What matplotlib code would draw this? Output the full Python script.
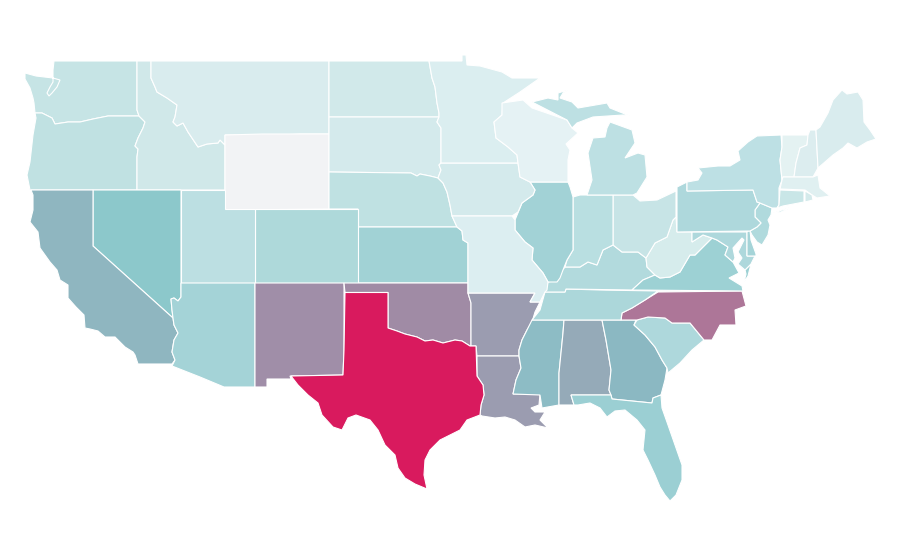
import matplotlib
matplotlib.use("Agg")
import matplotlib.pyplot as plt
from matplotlib.patches import Polygon

# state outlines, x/y on a 900x560 map grid
WA = [(54,61),(137,61),(137,110),(139,116),(108,116),(93,119),(80,122),(68,122),(55,124),(52,118),(42,113),(35,113),(34,103),(33,98),(30,88),(25,79),(25,73),(36,76),(53,78),(60,80),(57,87),(52,93),(49,96),(47,93),(50,87),(53,82),(53,70)]
OR = [(35,113),(42,113),(52,118),(55,124),(68,122),(80,122),(93,119),(108,116),(139,116),(145,122),(143,128),(138,138),(135,146),(138,149),(137,157),(137,190),(30,190),(28,180),(27,175),(30,162),(33,135),(36,118)]
ID = [(137,61),(151,61),(151,78),(155,87),(157,92),(167,98),(177,105),(175,117),(173,122),(177,126),(183,123),(188,132),(192,138),(198,147),(207,144),(218,143),(220,140),(225,145),(225,190),(137,190),(137,157),(138,149),(135,146),(138,138),(143,128),(145,122),(139,116),(137,110)]
MT = [(151,61),(329,61),(329,134),(300,134),(280,135),(225,135),(225,145),(220,140),(218,143),(207,144),(198,147),(192,138),(188,132),(183,123),(177,126),(173,122),(175,117),(177,105),(167,98),(157,92),(155,87),(151,78)]
WY = [(225,135),(262,134),(329,134),(329,209),(225,210)]
ND = [(329,61),(429,61),(432,78),(435,87),(437,103),(439,113),(439,117),(329,117)]
SD = [(329,117),(439,117),(437,122),(441,128),(441,163),(439,165),(441,170),(438,178),(430,176),(420,174),(417,176),(411,173),(329,172)]
NE = [(329,172),(411,173),(417,176),(420,174),(430,176),(438,178),(443,183),(447,192),(450,205),(452,216),(457,227),(358,227),(358,209),(329,209)]
KS = [(358,227),(457,227),(462,231),(463,240),(468,243),(468,283),(358,283)]
CO = [(255,209),(358,209),(358,283),(255,283)]
UT = [(181,190),(225,190),(225,209),(255,209),(255,283),(181,283)]
NV = [(93,190),(181,190),(181,297),(178,301),(174,298),(171,299),(172,310),(173,318),(93,246)]
CA = [(31,190),(93,190),(93,246),(173,318),(174,325),(178,333),(174,340),(172,352),(175,360),(172,364),(138,364),(135,355),(133,352),(125,347),(118,340),(115,337),(105,337),(98,331),(90,329),(85,328),(84,315),(76,307),(68,298),(68,285),(60,280),(57,270),(50,262),(40,248),(38,232),(30,222),(33,210),(33,195)]
AZ = [(181,283),(255,283),(255,387),(224,387),(200,377),(172,366),(175,360),(172,352),(174,340),(178,333),(174,325),(173,318),(172,310),(171,299),(174,298),(178,301),(181,297)]
NM = [(255,283),(344,283),(344,350),(343,375),(290,376),(291,379),(267,379),(267,387),(255,387)]
TX = [(345,292.5),(388,292.5),(388,328),(397,331),(405,334),(417,337),(425,341),(433,340),(443,343),(455,340),(462,341),(470,346),(476,346),(477,376),(483,385),(484,395),(481,405),(480,415),(467,420),(460,430),(450,435),(440,440),(430,450),(425,460),(424,475),(427,489),(415,484),(405,478),(398,468),(395,455),(385,445),(378,430),(370,420),(356,415),(348,418),(342,430),(333,427),(322,415),(318,403),(308,395),(298,385),(291,376),(343,375),(344,350)]
OK = [(344,283),(468,283),(468,293),(471,303),(471,346),(470,346),(462,341),(455,340),(443,343),(433,340),(425,341),(417,337),(405,334),(397,331),(388,328),(388,292.5),(345,292.5)]
AR = [(468,293),(535,293),(530,302),(540,302),(535,312),(532,322),(527,330),(522,340),(519,350),(519,356),(477,356),(476,346),(471,346),(471,303)]
LA = [(477,356),(519,356),(521,368),(516,380),(513,394),(540,394),(539,405),(531,408),(535,412),(545,412),(540,420),(548,428),(535,425),(525,427),(515,420),(505,417),(495,418),(482,416),(480,415),(481,405),(484,395),(483,385),(477,376)]
MS = [(532,320),(564,320),(563,333),(559,373),(559,405),(542,408),(540,395),(513,394),(516,380),(521,368),(519,356),(519,350),(522,340),(527,330)]
AL = [(564,320),(602,320),(606,340),(611,370),(609,390),(611,395),(571,395),(574,405),(568,405),(559,405),(559,373),(563,333)]
GA = [(602,320),(636,320),(634,325),(645,335),(655,347),(662,360),(667,368),(665,380),(661,395),(653,398),(652,403),(612,399),(611,395),(609,390),(611,370),(606,340)]
FL = [(571,395),(611,395),(612,399),(652,403),(653,398),(661,395),(662,408),(668,425),(675,445),(682,465),(682,480),(676,495),(670,501),(665,495),(660,487),(655,475),(648,460),(643,450),(645,430),(637,420),(625,410),(615,411),(607,417),(600,408),(590,403),(578,405),(574,405)]
SC = [(634,325),(637,320),(648,317),(665,318),(672,323),(690,323),(704,340),(692,350),(680,363),(668,373),(667,368),(662,360),(655,347),(645,335)]
NC = [(621,320),(622,313),(632,308),(645,300),(658,292),(742,291),(746,306),(735,310),(736,325),(720,325),(712,340),(704,340),(690,323),(672,323),(665,318),(648,317),(637,320)]
TN = [(532,320),(540,310),(545,292),(565,292),(566,289),(600,290),(658,291),(645,300),(632,308),(622,313),(621,320)]
KY = [(548,282),(558,280),(560,273),(565,267),(580,267),(588,262),(597,265),(603,250),(613,245),(622,252),(638,252),(646,258),(647,267),(655,275),(643,280),(632,290),(566,289),(565,292),(545,292)]
VA = [(632,290),(643,280),(655,275),(660,278),(670,277),(680,272),(690,255),(695,255),(712,238),(717,240),(728,247),(725,255),(733,262),(739,273),(729,278),(742,286),(743,291)]
VA_SHORE = [(751,264),(745,270),(746,274),(744,282),(748,276)]
WV = [(646,258),(655,243),(667,237),(673,220),(676,217),(677,232),(692,232),(692,242),(703,235),(712,238),(695,255),(690,255),(680,272),(670,277),(660,278),(655,275),(647,267)]
MD = [(692,232),(747,232),(747,256),(755,256),(751,264),(745,270),(738,264),(742,258),(738,252),(744,240),(742,238),(733,248),(735,258),(733,262),(725,255),(728,247),(717,240),(712,238),(703,235),(692,242)]
DE = [(747,232),(750,230),(751,240),(756,254),(756,256),(747,256)]
NJ = [(760,203),(772,208),(771,215),(768,220),(770,225),(768,235),(762,245),(757,242),(752,235),(750,231),(757,227),(761,223),(755,217),(755,210)]
PA = [(677,187),(687,182),(687,191),(753,190),(757,202),(760,203),(755,210),(755,217),(761,223),(757,227),(750,231),(677,232)]
NY = [(687,182),(698,180),(702,173),(698,168),(718,166),(730,166),(740,160),(738,151),(748,142),(757,136),(781,135),(782,147),(780,160),(782,180),(779,188),(779,205),(777,208),(772,208),(760,203),(757,202),(753,190),(687,191)]
LONG_ISLAND = [(773,213),(785,209),(792,207),(781,212)]
VT = [(782,135),(808,135),(807,145),(800,148),(796,163),(794,177),(783,177),(782,180),(780,160),(782,147)]
NH = [(808,135),(810,130),(816,130),(818,168),(813,177),(794,177),(796,163),(800,148),(807,145)]
ME = [(816,130),(820,127),(828,113),(833,100),(842,90),(847,94),(858,92),(863,100),(864,122),(870,130),(876,139),(867,142),(857,148),(848,143),(843,148),(833,155),(825,162),(818,168)]
MA = [(783,177),(813,177),(818,175),(820,188),(830,196),(817,198),(812,195),(805,190),(780,189),(782,180)]
CT = [(780,190),(804,191),(804,202),(783,206),(777,208),(779,205)]
RI = [(805,191),(812,195),(813,200),(805,202)]
OH = [(613,195),(633,195),(640,201),(657,200),(676,191),(676,217),(673,220),(667,237),(655,243),(646,258),(638,252),(622,252),(613,245)]
IN = [(573,197),(580,195),(613,195),(613,245),(603,250),(597,265),(588,262),(580,267),(565,267),(567,260),(573,250)]
IL = [(530,182),(568,182),(570,187),(573,197),(573,250),(567,260),(563,270),(560,278),(557,282),(548,282),(543,273),(532,260),(533,248),(525,242),(515,230),(515,220),(522,203),(533,195),(535,190)]
IA = [(441,163),(518,163),(520,177),(530,182),(535,190),(533,195),(522,203),(518,212),(512,216),(452,216),(450,205),(447,192),(443,183),(438,178),(441,170),(439,165)]
MO = [(452,216),(512,216),(515,220),(515,230),(525,242),(533,248),(532,260),(543,273),(548,282),(547,290),(545,292),(540,302),(530,302),(535,293),(468,293),(468,243),(463,240),(462,231),(457,227)]
MN = [(429,61),(462,61),(462,55),(466,55),(467,65),(480,66),(502,72),(512,78),(540,78),(520,92),(503,103),(502,115),(494,122),(496,138),(508,147),(517,155),(518,163),(441,163),(441,128),(437,122),(439,117),(439,113),(437,103),(435,87),(432,78)]
WI = [(502,103),(523,100),(532,108),(567,120),(572,128),(578,133),(566,144),(570,150),(568,160),(568,182),(530,182),(520,177),(518,163),(517,155),(508,147),(496,138),(494,122),(502,115)]
MI_UPPER = [(532,102),(548,98),(558,100),(558,93),(568,90),(563,93),(560,98),(572,102),(578,108),(607,103),(610,108),(630,116),(623,115),(593,117),(577,123),(572,128),(567,120)]
MI_LOWER = [(610,122),(632,130),(635,143),(625,158),(638,153),(645,155),(647,177),(637,193),(633,195),(613,195),(587,195),(592,180),(588,153),(593,138),(605,137),(607,128)]

outlines = [WA, OR, ID, MT, WY, ND, SD, NE, KS, CO, UT, NV, CA, AZ, NM, OK, AR, LA, MS, AL, GA, FL, SC, NC, TN, KY, VA, VA_SHORE, WV, MD, DE, NJ, PA, NY, LONG_ISLAND, VT, NH, ME, MA, CT, RI, OH, IN, IL, IA, MO, MN, WI, MI_UPPER, MI_LOWER, TX]
colors = ["#c6e4e5", "#c0e1e2", "#d0e8e9", "#d9ecee", "#f2f3f5", "#d1e9ea", "#d4eaec", "#bfe1e2", "#a1d2d5", "#aed9da",
          "#bcdfe2", "#8cc8cb", "#8fb6c0", "#a4d3d7", "#a08ea8", "#a08ba5", "#9b9cb0", "#9b9cb0", "#8dbcc5", "#95aab8",
          "#8bb8c2", "#9bcfd3", "#aed8dc", "#ad7698", "#acd7da", "#b2dadd", "#9dd1d4", "#9dd1d4", "#d6ecec", "#aed8dc",
          "#a5d4d8", "#b0dadd", "#aed8dc", "#bde0e4", "#bde0e4", "#e4f2f2", "#dcedef", "#d9ecee", "#e0f0f1", "#c9e6e7",
          "#d4eaeb", "#c7e4e6", "#b9dfe1", "#a2d2d6", "#d4eaec", "#dceef1", "#dbeef0", "#e5f2f4", "#bde0e3", "#bde0e3",
          "#d91a5e"]

fig = plt.figure(figsize=(9, 5.6), dpi=100)
ax = fig.add_axes([0, 0, 1, 1])

for shape, color in zip(outlines, colors):
    ax.add_patch(Polygon(shape, closed=True, facecolor=color, edgecolor="white", linewidth=0.8))

ax.set_xlim(0, 900)
ax.set_ylim(560, 0)
ax.axis("off")

fig.savefig("out.png", dpi=100, facecolor="white")
